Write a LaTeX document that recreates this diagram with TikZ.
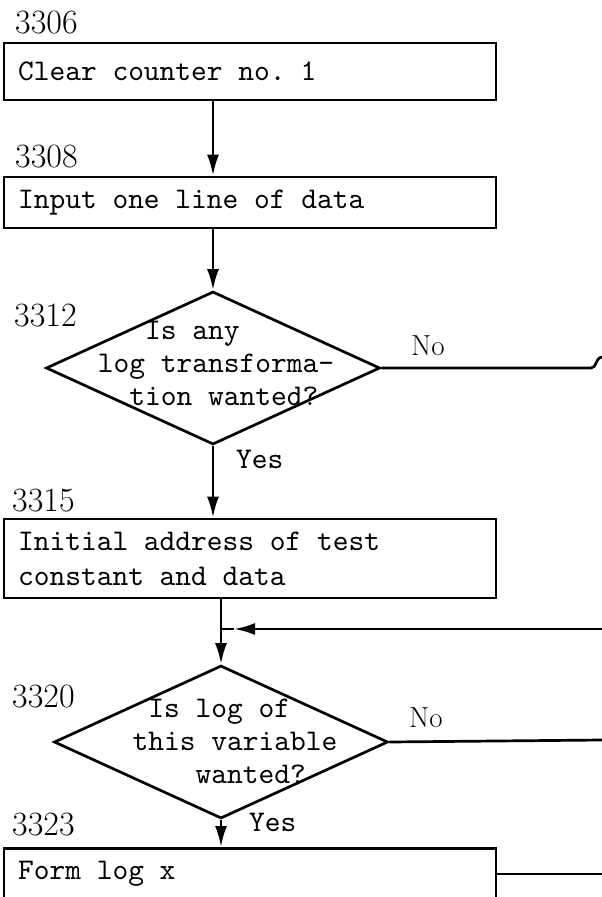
\documentclass[tikz,border=0pt]{standalone}
\usepackage{fontspec}
\usetikzlibrary{shapes.geometric,arrows.meta}
\newfontfamily\typewr{lmmono10-regular}[Extension=.otf]
\newcommand\twfont[1]{\fontsize{30}{#1}\selectfont\typewr}

\tikzset{
  procbox/.style={draw,line width=2.7pt,minimum width=492pt,text width=464pt,
    inner xsep=14pt,inner ysep=0pt,align=left,font=\twfont{35},
    execute at begin node={\spaceskip=15.75pt\relax}},
  decision/.style={draw,diamond,line width=2.7pt,minimum width=334pt,
    minimum height=153pt,inner sep=0pt},
  dtext/.style={align=left,inner sep=0pt,font=\twfont{33}},
  stepno/.style={anchor=base west,inner sep=0pt,font=\fontsize{34}{34}\selectfont},
  yeslbl/.style={anchor=base west,inner sep=0pt,font=\twfont{30}},
  nolbl/.style={anchor=base west,inner sep=0pt,font=\fontsize{29}{29}\selectfont},
  flow/.style={line width=2.7pt,-{Latex[length=21pt,width=12pt]}},
  wire/.style={line width=2.7pt}
}

\begin{document}
\begin{tikzpicture}[x=1pt,y=-1pt]
  \useasboundingbox (0,0) rectangle (602,897);
  \clip (0,0) rectangle (602,897);

  % steps
  \node[procbox,minimum height=57pt] (clear) at (250,71.5) {Clear counter no. 1};
  \node[procbox,minimum height=51pt] (input) at (250,202.5) {Input one line of data};
  \node[decision] (anylog) at (213,368) {};
  \node[dtext] (anylogq) at (216,363) {\phantom{xxx}Is any\\log transforma-\\\phantom{xx}tion wanted?};
  \node[procbox,minimum height=79pt] (initaddr) at (250,558.5) {Initial address of test\\constant and data};
  \node[decision] (thislog) at (221,742) {};
  \node[dtext] (thislogq) at (235,741) {\phantom{x}Is log of\\this variable\\\phantom{xxxx}wanted?};
  \node[procbox,minimum height=79pt,anchor=north] (formlog) at (250,847) {Form log x\\\mbox{}};

  % step numbers
  \node[stepno] (s3306) at (15,33) {3306};
  \node[stepno] (s3308) at (15,167) {3308};
  \node[stepno] (s3312) at (14,326) {3312};
  \node[stepno] (s3315) at (12,511) {3315};
  \node[stepno] (s3320) at (12,707) {3320};
  \node[stepno] (s3323) at (12,835) {3323};

  % branch labels
  \node[yeslbl] (yes1) at (236,468) {Yes};
  \node[nolbl] (no1) at (411,355) {No};
  \node[nolbl] (no2) at (409,727) {No};
  \node[yeslbl] (yes2) at (249,831) {Yes};

  % loose ends
  \coordinate (noexit) at (602,357);
  \coordinate (back) at (602,629);
  \coordinate (join) at (back -| thislog);
  \coordinate (noexit2) at (602,740);
  \coordinate (formexit) at (602,874);

  % flow
  \draw[flow] (clear.south -| anylog) -- (input.north -| anylog);
  \draw[flow] (input.south -| anylog) -- (anylog.north);
  \draw[flow] (anylog.south) -- (anylog.south |- initaddr.north);
  \draw[wire] (anylog.east) -- (591,368) .. controls (597,368) and (595,358) .. (noexit);
  \draw[flow] (initaddr.south -| thislog) -- (thislog.north);
  \draw[flow] (back) -- ([xshift=13pt]join);
  \draw[wire] ([xshift=13pt]join) -- (join);
  \draw[flow] (thislog.south) -- (thislog.south |- formlog.north);
  \draw[wire] (thislog.east) -- (noexit2);
  \draw[wire] (formexit -| formlog.east) -- (formexit);
\end{tikzpicture}
\end{document}
